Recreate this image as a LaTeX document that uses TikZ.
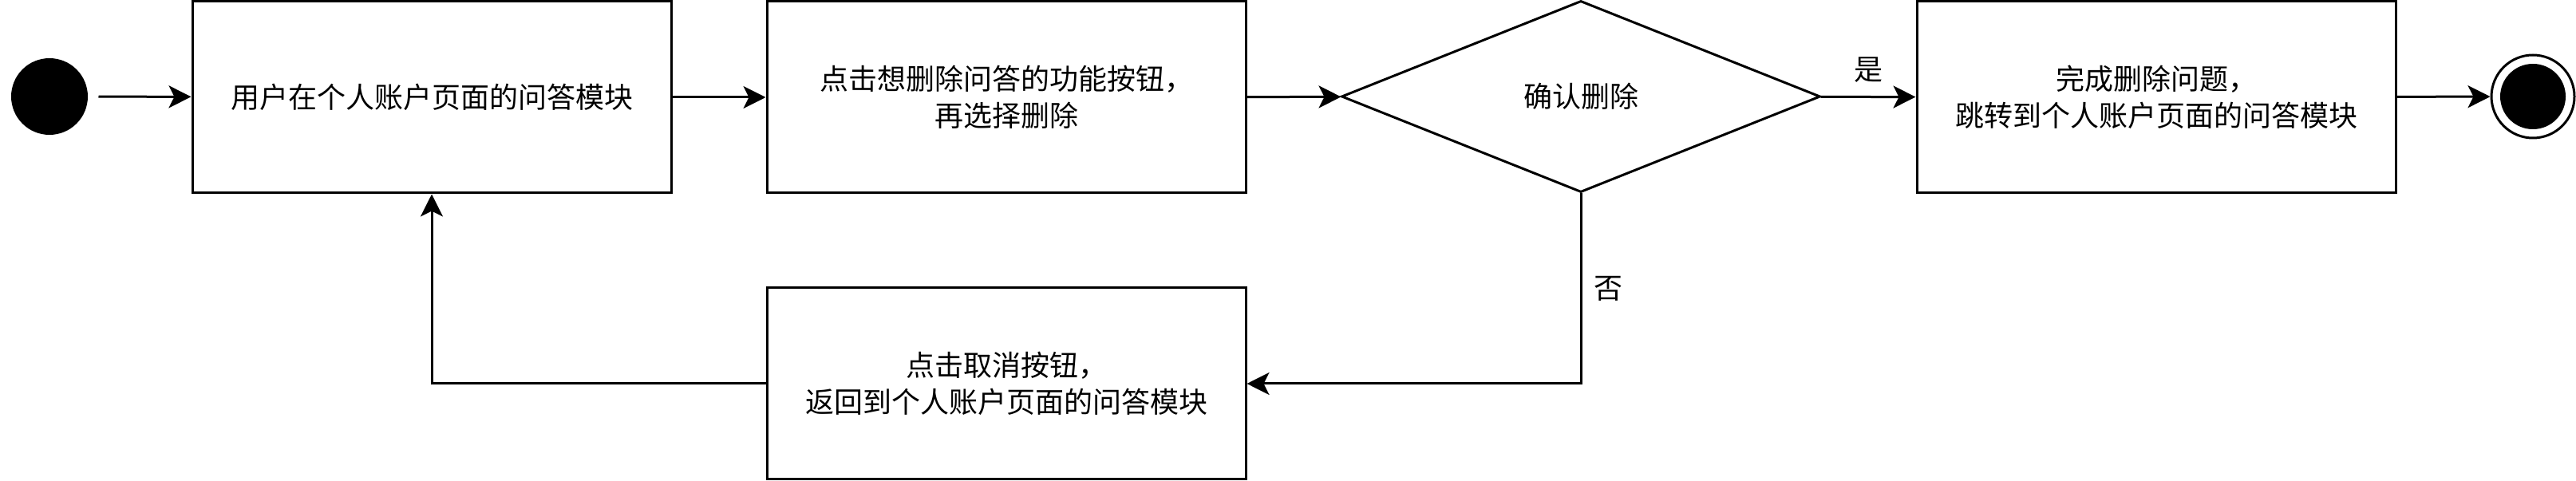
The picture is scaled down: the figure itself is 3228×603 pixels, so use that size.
\documentclass[tikz,border=0pt]{standalone}
\usepackage{fontspec}
\newfontfamily\cjk{Noto Sans CJK SC}
\usetikzlibrary{shapes.geometric, positioning, arrows.meta}

\begin{document}
\begin{tikzpicture}[x=0.5pt, y=-0.5pt, line width=1.5pt,
    >={Stealth[length=14pt, width=14pt, inset=3.5pt]},
    font=\cjk\fontsize{18pt}{23pt}\selectfont,
    activity/.style={draw, rectangle, minimum width=300pt, minimum height=120pt, align=center, inner sep=0pt},
    decision/.style={draw, diamond, minimum width=300pt, minimum height=120pt, inner sep=0pt},
    startdot/.style={circle, fill=black, minimum size=48pt, inner sep=0pt},
    endring/.style={circle, draw, minimum size=52pt, inner sep=0pt}]

    \useasboundingbox (0,0) rectangle (3228,603);

    % Start and end states
    \node[startdot] (start) at (62,121) {};
    \node[endring] (finish) at (3174,121) {};
    \node[startdot, minimum size=41pt] (finishdot) at (finish) {};

    % Activities
    \node[activity] (module) at (541,122) {用户在个人账户页面的问答模块};
    \node[activity] (choose) at (1261,122) {点击想删除问答的功能按钮，\\再选择删除};
    \node[decision] (confirm) at (1981,121) {确认删除};
    \node[activity] (done) at (2702,122) {完成删除问题，\\跳转到个人账户页面的问答模块};
    \node[activity] (cancel) at (1261,481) {点击取消按钮，\\返回到个人账户页面的问答模块};

    % Main flow
    \draw[->, shorten <=6pt] (start) -- (module);
    \draw[->] (module) -- (choose);
    \draw[->] (choose) -- (confirm);
    \draw[->] (confirm) -- node[above=5pt] {是} (done);
    \draw[->] (done) -- (finish);

    % Going back
    \draw[->] (confirm) |- node[pos=0.25, right=4pt] {否} (cancel);
    \draw[->] (cancel) -| (module);

\end{tikzpicture}
\end{document}
